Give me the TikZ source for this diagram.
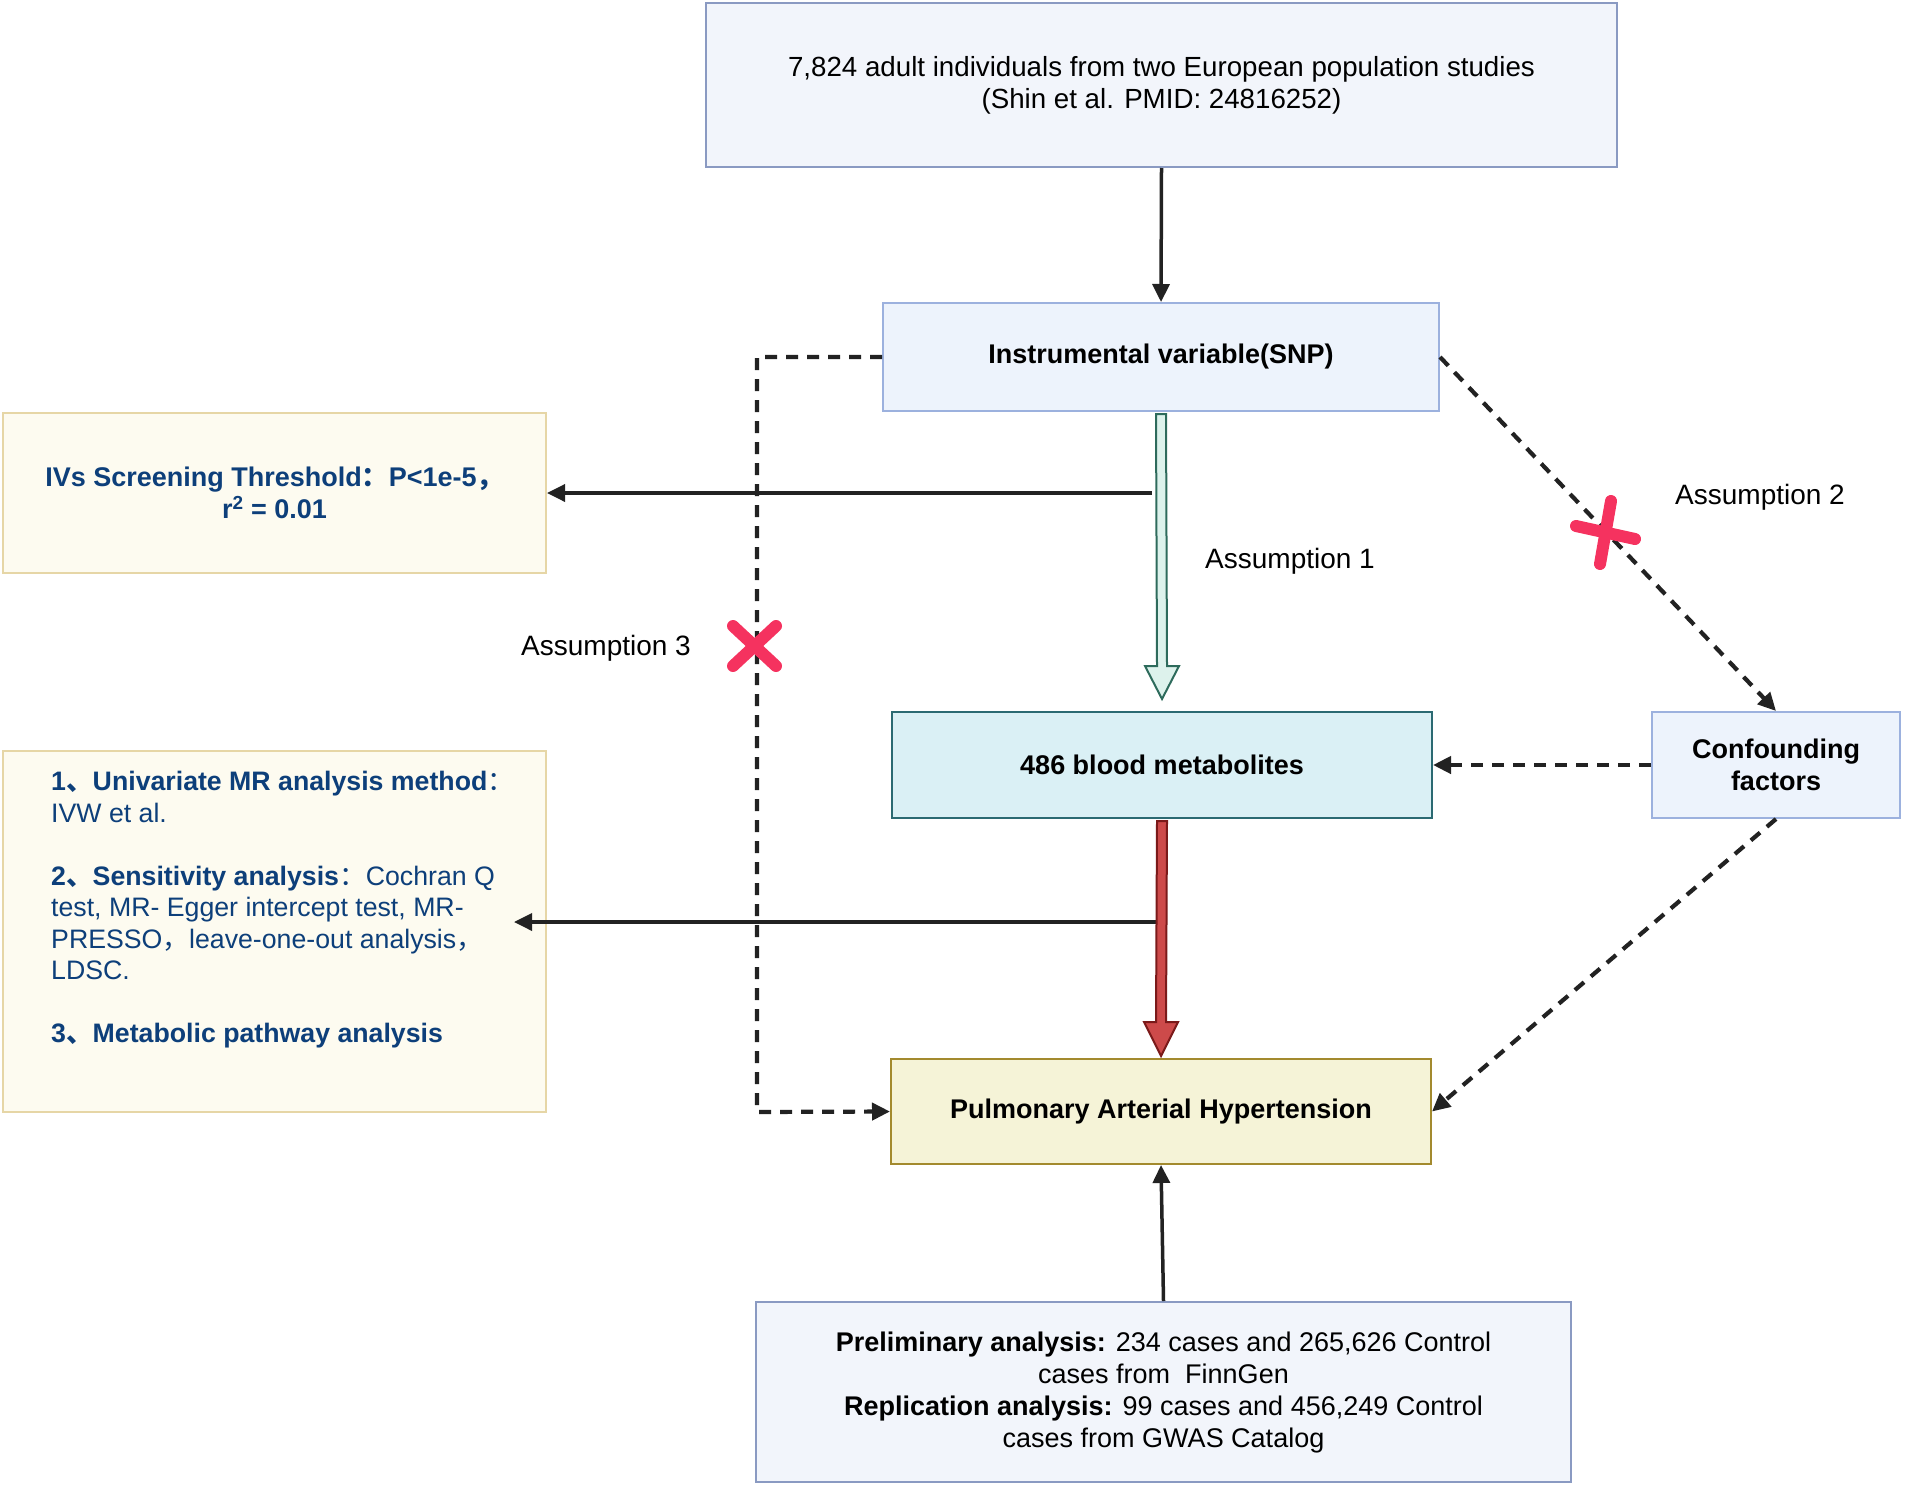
\documentclass[tikz,border=0pt]{standalone}
\usepackage{fontspec}
\setmainfont{Liberation Sans}
\newfontfamily\cjk{Noto Sans CJK SC}
\usetikzlibrary{arrows.meta,calc}
\definecolor{topfill}{HTML}{F2F5FB}
\definecolor{topdraw}{HTML}{8A9AC2}
\definecolor{snpfill}{HTML}{EDF3FC}
\definecolor{snpdraw}{HTML}{9CB1DE}
\definecolor{metfill}{HTML}{DAF0F5}
\definecolor{metdraw}{HTML}{2B6A72}
\definecolor{pahfill}{HTML}{F5F3D7}
\definecolor{pahdraw}{HTML}{A38A2E}
\definecolor{ivsfill}{HTML}{FDFBF0}
\definecolor{ivsdraw}{HTML}{E6D6A6}
\definecolor{xred}{HTML}{F5325F}
\definecolor{linec}{HTML}{222222}
\definecolor{txtblue}{HTML}{0D3F7A}
\definecolor{greenfill}{HTML}{DDF2EC}
\definecolor{greenline}{HTML}{2E6B5C}
\definecolor{redfill}{HTML}{CD4A4A}
\definecolor{redline}{HTML}{7B1A1A}
\begin{document}
\begin{tikzpicture}[x=1pt,y=-1pt,
  box/.style={draw, rectangle, line width=2pt, inner sep=0pt, align=center,
    font=\fontsize{27}{32}\selectfont},
  arr/.style={-{Triangle[length=18pt,width=17pt]}, line width=3.5pt, draw=linec},
  dasharr/.style={arr, line width=4.2pt, dash pattern=on 12pt off 9pt},
  label/.style={font=\fontsize{28}{32}\selectfont, inner sep=0pt},
  xmark/.style={draw=xred, line width=12pt, line cap=round}]
\useasboundingbox (0,0) rectangle (1905,1488);

% boxes
\node[box, fill=topfill, draw=topdraw, minimum width=911pt, minimum height=164pt,
  font=\fontsize{27.7}{32}\selectfont] (top) at (1161.5,85)
  {7,824 adult individuals from two European population studies\\(Shin et al. PMID: 24816252)};
\node[box, fill=snpfill, draw=snpdraw, minimum width=556pt, minimum height=108pt] (snp) at (1161,357)
  {\bfseries Instrumental variable(SNP)};
\node[box, fill=ivsfill, draw=ivsdraw, text=txtblue, minimum width=543pt, minimum height=160pt] (ivs) at (274.5,493)
  {\bfseries IVs Screening Threshold{\cjk ：}P<1e-5{\cjk ，}\\\bfseries r\textsuperscript{2} = 0.01};
\node[box, fill=metfill, draw=metdraw, minimum width=540pt, minimum height=106pt] (met) at (1162,765)
  {\bfseries 486 blood metabolites};
\node[box, fill=snpfill, draw=snpdraw, minimum width=248pt, minimum height=106pt] (conf) at (1776,765)
  {\bfseries Confounding\\\bfseries factors};
\node[box, fill=ivsfill, draw=ivsdraw, minimum width=543pt, minimum height=361pt] (meth) at (274.5,931.5) {};
\node[anchor=north west, inner sep=0pt, align=left, text=txtblue,
  font=\fontsize{26.7}{31.5}\selectfont] (methtext) at (51,771)
  {\textbf{1{\cjk 、}Univariate MR analysis method}{\cjk ：}\\
   IVW et al.\\[31.5pt]
   \textbf{2{\cjk 、}Sensitivity analysis}{\cjk ：}Cochran Q\\
   test, MR- Egger intercept test, MR-\\
   PRESSO{\cjk ，}leave-one-out analysis{\cjk ，}\\
   LDSC.\\[31.5pt]
   \textbf{3{\cjk 、}Metabolic pathway analysis}};
\node[box, fill=pahfill, draw=pahdraw, minimum width=540pt, minimum height=105pt] (pah) at (1161,1111.5)
  {\bfseries Pulmonary Arterial Hypertension};
\node[box, fill=topfill, draw=topdraw, minimum width=815pt, minimum height=180pt] (bot) at (1163.5,1392)
  {\textbf{Preliminary analysis:} 234 cases and 265,626 Control\\
   cases from\ \ FinnGen\\
   \textbf{Replication analysis:} 99 cases and 456,249 Control\\
   cases from GWAS Catalog};

% labels
\node[label] (a1) at (1290,561) {Assumption 1};
\node[label] (a2) at (1760,497) {Assumption 2};
\node[label] (a3) at (606,648) {Assumption 3};

% coordinates for free ends
\coordinate (ivsstart) at (1152,493);
\coordinate (methstart) at (1161,922);
\coordinate (methend) at (514,922);
\coordinate (corner1) at (757,357);
\coordinate (corner2) at (757,1112);

% connectors
\draw[arr] (top.south) -- (snp.north);
\draw[arr] (bot.north) -- (pah.south);
\draw[arr] (ivsstart) -- (ivs.east);
\draw[arr] (methstart) -- (methend);
\draw[dasharr] (snp.west) -- (corner1) -- (corner2) -- (pah.west);
\draw[dasharr] (snp.east) -- (conf.north);
\draw[dasharr] (conf.west) -- (met.east);
\draw[dasharr] (conf.south) -- (pah.east);

% green hollow arrow
\draw[fill=greenfill, draw=greenline, line width=2pt, line join=miter]
  ($(snp.south)+(-5,2)$) -- ($(snp.south)+(5,2)$) -- ($(met.north)+(5,-45)$) -- ($(met.north)+(17,-45)$)
  -- ($(met.north)+(0,-12)$) -- ($(met.north)+(-17,-45)$) -- ($(met.north)+(-5,-45)$) -- cycle;
% red arrow
\draw[fill=redfill, draw=redline, line width=2pt, line join=miter]
  ($(met.south)+(-5,2)$) -- ($(met.south)+(5,2)$) -- ($(pah.north)+(5,-36)$) -- ($(pah.north)+(17,-36)$)
  -- ($(pah.north)+(0,-2)$) -- ($(pah.north)+(-17,-36)$) -- ($(pah.north)+(-5,-36)$) -- cycle;

% X marks
\draw[xmark] (733,626) -- (776,666);
\draw[xmark] (733,666) -- (776,626);
\draw[xmark] (1611,501) -- (1600,564);
\draw[xmark] (1576,526) -- (1635,539);
\end{tikzpicture}
\end{document}
